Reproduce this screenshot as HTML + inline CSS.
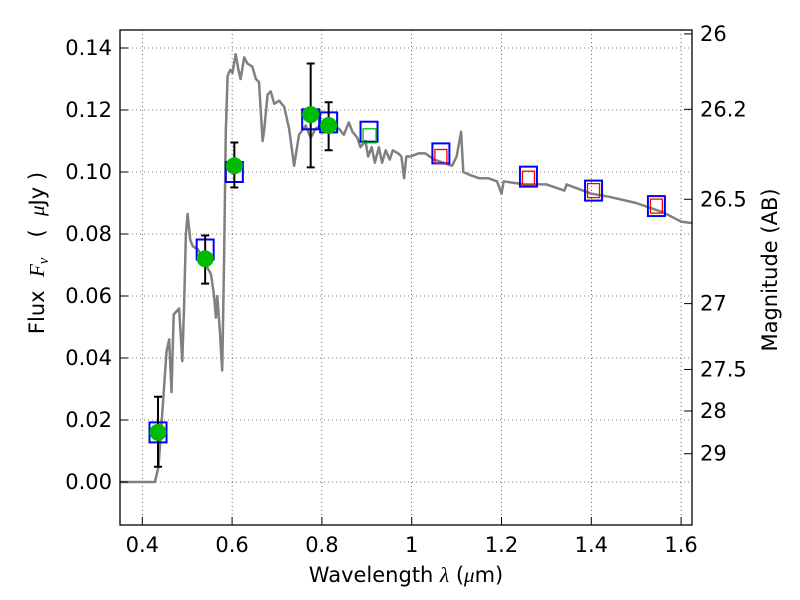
<!DOCTYPE html>
<html><head><meta charset="utf-8">
<style>
html,body{margin:0;padding:0;background:#fff;}
svg{display:block;font-family:"DejaVu Sans","Liberation Sans",sans-serif;}
</style></head>
<body>
<svg id="chart" width="800" height="600" viewBox="0 0 800 600" xmlns="http://www.w3.org/2000/svg">
<rect x="0" y="0" width="800" height="600" fill="#fff"/>
<g id="grid"></g>
<g id="spec"></g>
<g id="marks"></g>
<rect x="120" y="30" width="572" height="495" fill="none" stroke="#000" stroke-width="1.3"/>
<g id="axes"></g>
<text x="406" y="582" font-size="21" text-anchor="middle">Wavelength  <tspan font-style="italic" font-family="Liberation Serif,serif">λ</tspan> (<tspan font-style="italic" font-family="Liberation Serif,serif">μ</tspan>m)</text>
<text transform="translate(44,253) rotate(-90)" font-size="21" text-anchor="middle" xml:space="preserve">Flux  <tspan font-style="italic" font-family="Liberation Serif,serif">F<tspan font-size="15" dy="4">ν</tspan></tspan><tspan dy="-4">   (  </tspan><tspan font-style="italic" font-family="Liberation Serif,serif">μ</tspan>Jy )</text>
<text transform="translate(777,270) rotate(-90)" font-size="21" text-anchor="middle">Magnitude (AB)</text>
</svg>
<script>
const xTicks=[0.4,0.6,0.8,1.0,1.2,1.4,1.6];
const xTickLabels=["0.4","0.6","0.8","1","1.2","1.4","1.6"];
const yTicks=[0,0.02,0.04,0.06,0.08,0.1,0.12,0.14];
const yTickLabels=["0.00","0.02","0.04","0.06","0.08","0.10","0.12","0.14"];
const magTicks=[26,26.2,26.5,27,27.5,28,29];
const magTickLabels=["26","26.2","26.5","27","27.5","28","29"];
const specWave=[0.35,0.428,0.436,0.447,0.454,0.46,0.465,0.47,0.476,0.482,0.489,0.493,0.497,0.501,0.507,0.513,0.524,0.538,0.553,0.56,0.564,0.567,0.573,0.578,0.582,0.586,0.59,0.596,0.601,0.608,0.614,0.619,0.627,0.634,0.645,0.653,0.66,0.668,0.671,0.679,0.686,0.694,0.705,0.716,0.727,0.738,0.749,0.764,0.775,0.786,0.797,0.812,0.823,0.838,0.849,0.86,0.868,0.879,0.886,0.897,0.903,0.911,0.918,0.927,0.934,0.942,0.951,0.958,0.97,0.977,0.983,0.988,0.997,1.015,1.03,1.05,1.07,1.09,1.1,1.11,1.115,1.13,1.15,1.17,1.19,1.2,1.205,1.25,1.3,1.34,1.345,1.4,1.44,1.5,1.56,1.6,1.625];
const specFlux=[0,0,0.0049,0.0275,0.042,0.046,0.029,0.054,0.055,0.056,0.039,0.057,0.08,0.0865,0.078,0.076,0.075,0.071,0.067,0.06,0.053,0.06,0.048,0.036,0.07,0.113,0.131,0.133,0.132,0.138,0.133,0.13,0.137,0.135,0.134,0.13,0.129,0.11,0.113,0.125,0.126,0.122,0.123,0.121,0.114,0.102,0.112,0.115,0.111,0.114,0.115,0.113,0.114,0.114,0.112,0.116,0.113,0.111,0.108,0.11,0.105,0.108,0.103,0.108,0.103,0.107,0.104,0.107,0.106,0.105,0.098,0.105,0.105,0.106,0.106,0.104,0.103,0.102,0.105,0.113,0.1,0.099,0.098,0.098,0.097,0.093,0.097,0.096,0.096,0.094,0.096,0.093,0.092,0.09,0.087,0.084,0.0835];
const obsWave=[0.435,0.54,0.605,0.775,0.815];
const obsFlux=[0.016,0.072,0.102,0.1185,0.115];
const obsLow=[0.0049,0.064,0.095,0.1015,0.107];
const obsHigh=[0.0275,0.0795,0.1095,0.135,0.1225];
const modelWave=[0.435,0.54,0.605,0.775,0.815,0.905,1.065,1.26,1.405,1.545];
const modelFlux=[0.016,0.075,0.1,0.117,0.116,0.113,0.106,0.0985,0.094,0.089];
const predWave=[1.065,1.26,1.405,1.545];
const predFlux=[0.105,0.098,0.094,0.089];
const greenSqWave=[0.905];
const greenSqFlux=[0.112];

const NS="http://www.w3.org/2000/svg";
const X=v=>142.3+(v-0.4)*449;
const Y=v=>482-v*3100;
const magY=m=>Y(Math.pow(10,-0.4*(m-23.9)));
function mk(tag,attrs,parent){const e=document.createElementNS(NS,tag);for(const k in attrs)e.setAttribute(k,attrs[k]);parent.appendChild(e);return e;}
const grid=document.getElementById('grid'),axes=document.getElementById('axes'),spec=document.getElementById('spec'),marks=document.getElementById('marks');
xTicks.forEach((t,i)=>{
  const g=mk('line',{x1:X(t),x2:X(t),y1:30,y2:525,stroke:'#000','stroke-width':0.6,'stroke-dasharray':'1,3'},grid);
  
  
  const tk=mk('line',{x1:X(t),x2:X(t),y1:525,y2:517,stroke:'#000'},axes);
  
  
  const tx=mk('text',{x:X(t),y:552,'font-size':21,'text-anchor':'middle'},axes);
  
  
  tx.textContent=xTickLabels[i];
});
yTicks.forEach((t,i)=>{
  const g=mk('line',{x1:120,x2:692,y1:Y(t),y2:Y(t),stroke:'#000','stroke-width':0.6,'stroke-dasharray':'1,3'},grid);
  
  
  const tk=mk('line',{x1:120,x2:128,y1:Y(t),y2:Y(t),stroke:'#000'},axes);
  
  
  const tx=mk('text',{x:112,y:Y(t)+7,'font-size':21,'text-anchor':'end'},axes);
  
  
  tx.textContent=yTickLabels[i];
});
magTicks.forEach((m,i)=>{
  const y=magY(m);
  const tk=mk('line',{x1:684,x2:692,y1:y,y2:y,stroke:'#000'},axes);
  
  
  const tx=mk('text',{x:700,y:y+7,'font-size':21},axes);
  
  
  tx.textContent=magTickLabels[i];
});
let d='';specWave.forEach((w,i)=>{d+=(i?'L':'M')+X(w).toFixed(1)+','+Y(specFlux[i]).toFixed(1);});
const p=mk('path',{d:d,fill:'none',stroke:'#808080','stroke-width':2.5,'stroke-linejoin':'round'},spec);


modelWave.forEach((w,i)=>{
  const r=mk('rect',{x:X(w)-8.5,y:Y(modelFlux[i])-10,width:17,height:20,fill:'none',stroke:'#0000ff','stroke-width':2},marks);
  
  
});
predWave.forEach((w,i)=>{
  const r=mk('rect',{x:X(w)-6,y:Y(predFlux[i])-7,width:12,height:14,fill:'none',stroke:'#ff0000','stroke-width':1.3},marks);
  
  
});
greenSqWave.forEach((w,i)=>{
  const r=mk('rect',{x:X(w)-6,y:Y(greenSqFlux[i])-6,width:13,height:14,fill:'none',stroke:'#00bb00','stroke-width':1.3},marks);
  
  
});
obsWave.forEach((w,i)=>{
  const x=X(w);
  const e=mk('path',{d:`M${x},${Y(obsLow[i])}L${x},${Y(obsHigh[i])}M${x-4},${Y(obsLow[i])}L${x+4},${Y(obsLow[i])}M${x-4},${Y(obsHigh[i])}L${x+4},${Y(obsHigh[i])}`,stroke:'#000','stroke-width':2,fill:'none'},marks);
  
  
  const c=mk('circle',{cx:x,cy:Y(obsFlux[i]),r:8.5,fill:'#00bb00'},marks);
  
  
});
</script>
</body></html>
